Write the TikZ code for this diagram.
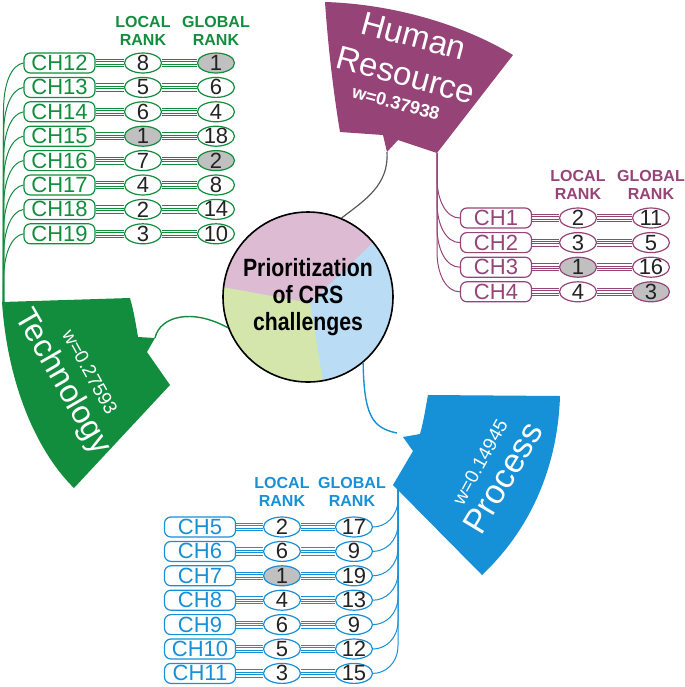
\documentclass[tikz,border=0pt]{standalone}
\usepackage{fontspec}
\setmainfont{Liberation Sans}
\newfontfamily\hubfont[FakeStretch=0.85]{Liberation Sans}
\usetikzlibrary{shapes.geometric,calc}

\definecolor{techgreen}{RGB}{18,141,62}
\definecolor{hrpurple}{RGB}{150,68,120}
\definecolor{procblue}{RGB}{22,144,214}
\definecolor{piepink}{RGB}{221,187,211}
\definecolor{pieblue}{RGB}{186,221,245}
\definecolor{piegreen}{RGB}{212,230,172}
\definecolor{shade}{RGB}{192,192,192}
\definecolor{numtxt}{RGB}{35,35,35}

\tikzset{
  chbox/.style={draw, rounded corners=3.2pt, minimum width=35.5pt, minimum height=10pt,
    inner sep=0pt, line width=0.6pt, font=\fontsize{11}{11}\selectfont},
  rank/.style={draw, ellipse, minimum width=18.5pt, minimum height=10pt, inner xsep=0pt,
    inner ysep=-1.5pt, line width=0.6pt, text=numtxt, font=\fontsize{11}{11}\selectfont},
  head/.style={align=center, inner sep=0pt, font=\fontsize{8}{9}\selectfont\bfseries},
  rail/.style={line width=0.4pt},
  fan/.style={line width=0.5pt},
  banner/.style={text=white, inner sep=0pt, align=center},
}

% four thin rails between two nodes
\newcommand\rails[3]{%
  \foreach \o in {-1.8,-0.6,0.6,1.8}
    \draw[rail,#1] ([yshift=\o pt]#2.east) -- ([yshift=\o pt]#3.west);}

\begin{document}
\begin{tikzpicture}[x=0.5pt, y=-0.5pt]
    \useasboundingbox (0,0) rectangle (685,687);

    % Centre circle
    \coordinate (mid) at (310,303);
    \begin{scope}
        \clip (308,297) circle[radius=42.5pt];
        \fill[pieblue] (200,190) rectangle (420,400);
        \fill[piepink] (mid) -- (392,224) -- (392,190) -- (200,190) -- (200,283) -- cycle;
        \fill[piegreen] (mid) -- (200,283) -- (200,400) -- (326,400) -- cycle;
    \end{scope}
    \node[draw, circle, minimum size=85pt, inner sep=0pt, line width=0.8pt, align=center,
        font=\hubfont\fontsize{12.5}{13.3}\selectfont\bfseries] (hub) at (308,297)
        {Prioritization\\of CRS\\challenges};

    % Banners
    \fill[hrpurple] (325,2) .. controls (392,4) and (462,24) .. (513,55) -- (437,153)
        -- (398,140) -- (387,152) -- (383,135) -- (340,132) .. controls (333,90) and (328,45) .. cycle;
    \fill[techgreen] (2,302) -- (130,298) .. controls (134,312) and (136,325) .. (138,337)
        -- (155,338) -- (147,352) -- (170,385) -- (74,488) .. controls (40,455) and (8,390) .. cycle;
    \fill[procblue] (428,395) -- (560,396) .. controls (558,460) and (535,525) .. (482,575)
        -- (393,485) -- (413,451) -- (403,437) -- (420,434) .. controls (424,420) and (426,405) .. cycle;
    \coordinate (hrtip) at (387,152);
    \coordinate (prtop) at (437,153);
    \coordinate (techtip) at (155,338);
    \coordinate (techtop) at (3.5,302);
    \coordinate (proctip) at (397,433);
    \coordinate (proclow) at (398,484);

    \node[banner, rotate=-15, font=\fontsize{16.5}{16.5}\selectfont] (hrname) at (414,36) {Human};
    \node[banner, rotate=-15, font=\fontsize{16.5}{16.5}\selectfont] (hrres) at (406,75) {Resource};
    \node[banner, rotate=-15, font=\fontsize{9}{9}\selectfont\bfseries] (hrw) at (396,103) {w=0.37938};
    \node[banner, rotate=-60, font=\fontsize{16}{16}\selectfont] (techname) at (62,382) {Technology};
    \node[banner, rotate=-61, font=\fontsize{9.5}{9.5}\selectfont] (techw) at (90,372) {w=0.27593};
    \node[banner, rotate=59, font=\fontsize{17}{17}\selectfont] (procname) at (503,478) {Process};
    \node[banner, rotate=61, font=\fontsize{9.5}{9.5}\selectfont] (procw) at (480,462) {w=0.14945};

    % Links to the circle
    \draw[gray!70!black, line width=0.6pt] (hrtip) .. controls (389,185) and (365,200) .. (hub.67);
    \draw[techgreen, line width=0.7pt] (techtip) .. controls (160,316) and (192,308) .. (hub.201);
    \draw[procblue, line width=0.7pt] (hub.-50) .. controls (364,415) and (372,428) .. (proctip);

    % Technology table
    \node[head, techgreen] (gloc) at (143,31) {LOCAL\\RANK};
    \node[head, techgreen] (gglo) at (216,31) {GLOBAL\\RANK};
    \foreach \ch/\lr/\gr/\lf/\gf [count=\i from 0] in {12/8/1/white/shade, 13/5/6/white/white,
        14/6/4/white/white, 15/1/18/shade/white, 16/7/2/white/shade, 17/4/8/white/white,
        18/2/14/white/white, 19/3/10/white/white}{
        \pgfmathsetmacro\yy{63+24.4*\i}
        \node[chbox, techgreen] (g\ch) at (59.5,\yy) {CH\ch};
        \node[rank, draw=techgreen, fill=\lf] (gl\ch) at (143,\yy) {\lr};
        \node[rank, draw=techgreen, fill=\gf] (gg\ch) at (216,\yy) {\gr};
        \rails{techgreen}{g\ch}{gl\ch}
        \rails{techgreen}{gl\ch}{gg\ch}
        \draw[fan, techgreen] (g\ch.west) .. controls +(-12,2) and +(0,-28) .. (3.5,\yy+48) -- (techtop);
    }

    % Human resource table
    \node[head, hrpurple] (ploc) at (578,185) {LOCAL\\RANK};
    \node[head, hrpurple] (pglo) at (651,185) {GLOBAL\\RANK};
    \foreach \ch/\lr/\gr/\lf/\gf [count=\i from 0] in {1/2/11/white/white, 2/3/5/white/white,
        3/1/16/shade/white, 4/4/3/white/shade}{
        \pgfmathsetmacro\yy{218+24.6*\i}
        \node[chbox, hrpurple] (p\ch) at (496,\yy) {CH\ch};
        \node[rank, draw=hrpurple, fill=\lf] (pl\ch) at (578,\yy) {\lr};
        \node[rank, draw=hrpurple, fill=\gf] (pg\ch) at (651,\yy) {\gr};
        \rails{hrpurple}{p\ch}{pl\ch}
        \rails{hrpurple}{pl\ch}{pg\ch}
        \draw[fan, hrpurple] (prtop) -- (437,\yy-40) .. controls +(0,22) and +(-14,0) .. (p\ch.west);
    }

    % Process table
    \node[head, procblue] (bloc) at (282,492) {LOCAL\\RANK};
    \node[head, procblue] (bglo) at (352,492) {GLOBAL\\RANK};
    \foreach \ch/\lr/\gr/\lf/\gf [count=\i from 0] in {5/2/17/white/white, 6/6/9/white/white,
        7/1/19/shade/white, 8/4/13/white/white, 9/6/9/white/white, 10/5/12/white/white,
        11/3/15/white/white}{
        \pgfmathsetmacro\yy{527+24.4*\i}
        \node[chbox, procblue] (b\ch) at (200,\yy) {CH\ch};
        \node[rank, draw=procblue, fill=\lf] (bl\ch) at (282,\yy) {\lr};
        \node[rank, draw=procblue, fill=\gf] (bg\ch) at (354,\yy) {\gr};
        \rails{procblue}{b\ch}{bl\ch}
        \rails{procblue}{bl\ch}{bg\ch}
        \draw[fan, procblue] (bg\ch.east) .. controls +(12,0) and +(0,18) .. (398,\yy-28) -- (proclow);
    }
\end{tikzpicture}
\end{document}
